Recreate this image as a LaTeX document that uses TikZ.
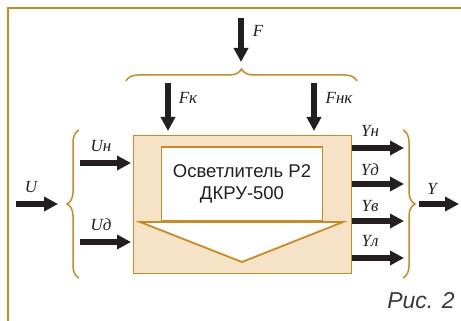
\documentclass[tikz,border=0pt]{standalone}
\usepackage{fontspec}
\setmainfont{Liberation Serif}
\newfontfamily\boxfont{Liberation Sans}
\usetikzlibrary{arrows.meta,decorations.pathreplacing}
\definecolor{frameor}{HTML}{CC8B1F}
\definecolor{boxfill}{HTML}{F5E2C7}
\definecolor{arrowblk}{HTML}{231F20}
\definecolor{captiongray}{HTML}{3A3A3A}
\begin{document}
\begin{tikzpicture}[x=1pt,y=-1pt,
  flow/.style={draw=arrowblk, line width=6pt, -{Triangle[length=14pt,width=14pt]}},
  lbl/.style={font=\fontsize{17}{19}\selectfont\itshape, inner sep=0pt, text=arrowblk},
  brc/.style={draw=frameor, line width=1.5pt, decorate, decoration={brace, amplitude=12pt}},
]
\useasboundingbox (0,0) rectangle (461,321);
% frame
\draw[frameor, line width=2pt] (8,330) -- (8,8) -- (470,8);
% main box
\node[draw=frameor, fill=boxfill, line width=1pt, minimum width=218pt, minimum height=138pt, inner sep=0pt] (plant) at (242,204) {};
\node[draw=frameor, fill=white, line width=1.8pt, minimum width=161pt, minimum height=74pt, inner sep=0pt,
      align=center, font=\boxfont\fontsize{18.5}{22}\selectfont, text=arrowblk] (inner) at (242,184)
      {Осветлитель Р2\\ДКРУ-500};
\draw[frameor, line width=1.8pt, fill=white, line join=miter] (140,222) -- (343,222) -- (242,262) -- cycle;
% braces
\draw[brc] (126,81) -- (357,81);
\draw[brc] (79,278) -- (79,130);
\draw[brc] (403,130) -- (403,278);
% coordinates
\coordinate (fs) at (241,18);  \coordinate (fe) at (241,62);
\coordinate (fks) at (168,83); \coordinate (fke) at (168,131);
\coordinate (fns) at (314,83); \coordinate (fne) at (314,131);
\coordinate (us) at (16,204);  \coordinate (ue) at (58,204);
\coordinate (uns) at (80,163); \coordinate (une) at (131,163);
\coordinate (uds) at (80,242); \coordinate (ude) at (131,242);
\coordinate (yne) at (404,148);
\coordinate (yde) at (404,184);
\coordinate (yve) at (404,221);
\coordinate (yle) at (404,258);
\coordinate (ys) at (419,204);  \coordinate (ye) at (459,204);
% arrows
\draw[flow] (fs) -- (fe);
\draw[flow] (fks) -- (fke);
\draw[flow] (fns) -- (fne);
\draw[flow] (us) -- (ue);
\draw[flow] (uns) -- (une);
\draw[flow] (uds) -- (ude);
\draw[flow] (plant.east |- yne) -- (yne);
\draw[flow] (plant.east |- yde) -- (yde);
\draw[flow] (plant.east |- yve) -- (yve);
\draw[flow] (plant.east |- yle) -- (yle);
\draw[flow] (ys) -- (ye);
% labels
\node[lbl] (lf) at (258,31) {F};
\node[lbl] (lfk) at (188,98) {Fк};
\node[lbl] (lfn) at (339,98) {Fнк};
\node[lbl] (lu) at (31,187) {U};
\node[lbl] (lun) at (101,146) {Uн};
\node[lbl] (lud) at (101,225) {Uд};
\node[lbl] (lyn) at (370,131) {Yн};
\node[lbl] (lyd) at (370,170) {Yд};
\node[lbl] (lyv) at (370,206) {Yв};
\node[lbl] (lyl) at (370,241) {Yл};
\node[lbl] (ly) at (432,189) {Y};
\node[font=\boxfont\itshape\fontsize{23}{25}\selectfont, text=captiongray, inner sep=0pt] (cap) at (421,301) {Рис. 2};
\end{tikzpicture}
\end{document}
